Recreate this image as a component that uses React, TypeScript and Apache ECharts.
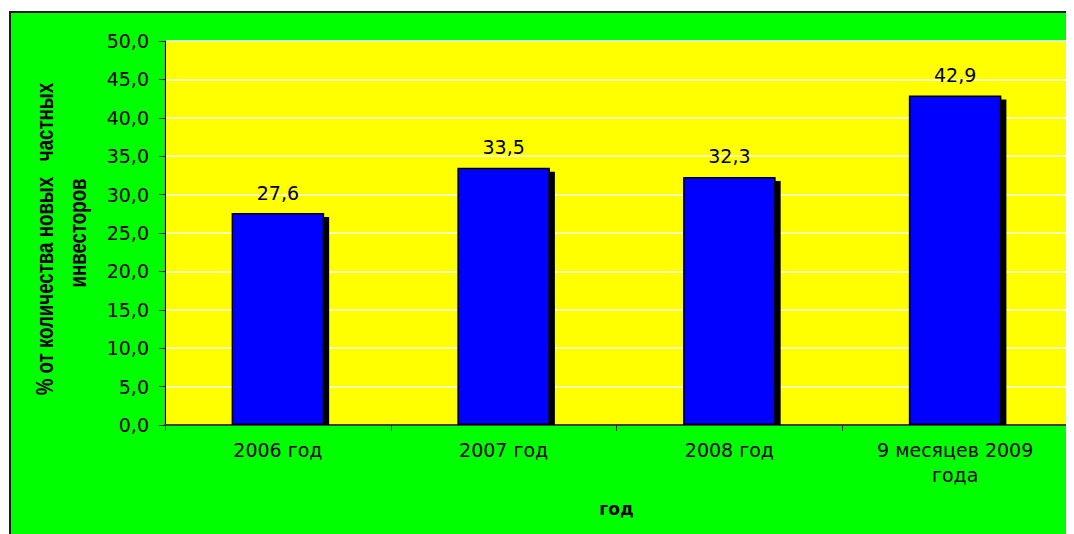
import React, { useEffect, useRef } from "react";
import * as echarts from "echarts";

const categories = ["2006 год", "2007 год", "2008 год", "9 месяцев 2009\nгода"];
const values = [27.6, 33.5, 32.3, 42.9];
const yMin = 0;
const yMax = 50;
const yInterval = 5;
const yTitleLine1 = "% от количества новых   частных";
const yTitleLine2 = "инвесторов";
const xTitle = "год";

const fmt = (v: number) => v.toFixed(1).replace(".", ",");

export default function App() {
  const ref = useRef<HTMLDivElement>(null);
  useEffect(() => {
    if (!ref.current) return;
    const chart = echarts.init(ref.current, null, { renderer: "svg" });
    const barRatio = 0.41;
    chart.setOption({
      animation: false,
      backgroundColor: "#ffffff",
      graphic: [
        {
          type: "rect",
          z: -100,
          silent: true,
          shape: { x: 2, y: 4, width: 1200, height: 700 },
          style: { fill: "#00ff00", stroke: "#1a1a1a", lineWidth: 2 },
        },
        {
          type: "text",
          x: 37,
          y: 231,
          rotation: Math.PI / 2,
          scaleY: 1.3,
          style: {
            text: yTitleLine1,
            font: "bold 18.7px 'Liberation Sans', Arial, sans-serif",
            fill: "#000",
            align: "center",
            verticalAlign: "middle",
          },
        },
        {
          type: "text",
          x: 69.5,
          y: 225,
          rotation: Math.PI / 2,
          scaleY: 1.3,
          style: {
            text: yTitleLine2,
            font: "bold 18.7px 'Liberation Sans', Arial, sans-serif",
            fill: "#000",
            align: "center",
            verticalAlign: "middle",
          },
        },
      ],
      grid: {
        left: 157,
        top: 33,
        right: 6,
        bottom: 109,
        show: true,
        backgroundColor: "#ffff00",
        borderColor: "#808080",
        borderWidth: 1,
        outerBoundsMode: "none",
        containLabel: false,
      },
      xAxis: {
        type: "category",
        data: categories,
        name: xTitle,
        nameLocation: "middle",
        nameGap: 75,
        nameTextStyle: {
          fontFamily: "DejaVu Sans",
          fontWeight: "bold",
          fontSize: 17,
          color: "#000",
        },
        axisLine: { lineStyle: { color: "#404040", width: 2 } },
        axisTick: { show: true, length: 6, lineStyle: { color: "#333" } },
        axisLabel: {
          fontFamily: "DejaVu Sans",
          fontSize: 19,
          color: "#000",
          margin: 12,
          lineHeight: 25,
        },
        splitLine: { show: false },
      },
      yAxis: {
        type: "value",
        min: yMin,
        max: yMax,
        interval: yInterval,
        axisLine: { show: true, lineStyle: { color: "#000", width: 1 } },
        axisTick: { show: true, length: 6, lineStyle: { color: "#333" } },
        axisLabel: {
          fontFamily: "DejaVu Sans",
          fontSize: 19,
          color: "#000",
          margin: 16,
          formatter: (v: number) => fmt(v),
        },
        splitLine: { show: true, lineStyle: { color: "#ffffe8", width: 1.5 } },
      },
      series: [
        {
          type: "custom",
          z: 1,
          silent: true,
          data: values.map((v, i) => [i, v]),
          renderItem: (params: any, api: any) => {
            const idx = api.value(0);
            const v = api.value(1);
            const top = api.coord([idx, v]);
            const base = api.coord([idx, 0]);
            const w = api.size([1, 0])[0] * barRatio;
            return {
              type: "rect",
              shape: {
                x: top[0] - w / 2 + 5,
                y: top[1] + 4,
                width: w,
                height: base[1] - top[1] - 4,
              },
              style: { fill: "#000000" },
            };
          },
        },
        {
          type: "bar",
          z: 2,
          data: values,
          barWidth: barRatio * 100 + "%",
          itemStyle: { color: "#0000ff", borderColor: "#000", borderWidth: 1.5 },
          label: {
            show: true,
            position: "top",
            distance: 11,
            fontFamily: "DejaVu Sans",
            fontSize: 19,
            color: "#000",
            formatter: (p: any) => fmt(p.value),
          },
        },
      ],
    });
    return () => chart.dispose();
  }, []);
  return <div ref={ref} style={{ width: 1066, height: 526 }} />;
}
